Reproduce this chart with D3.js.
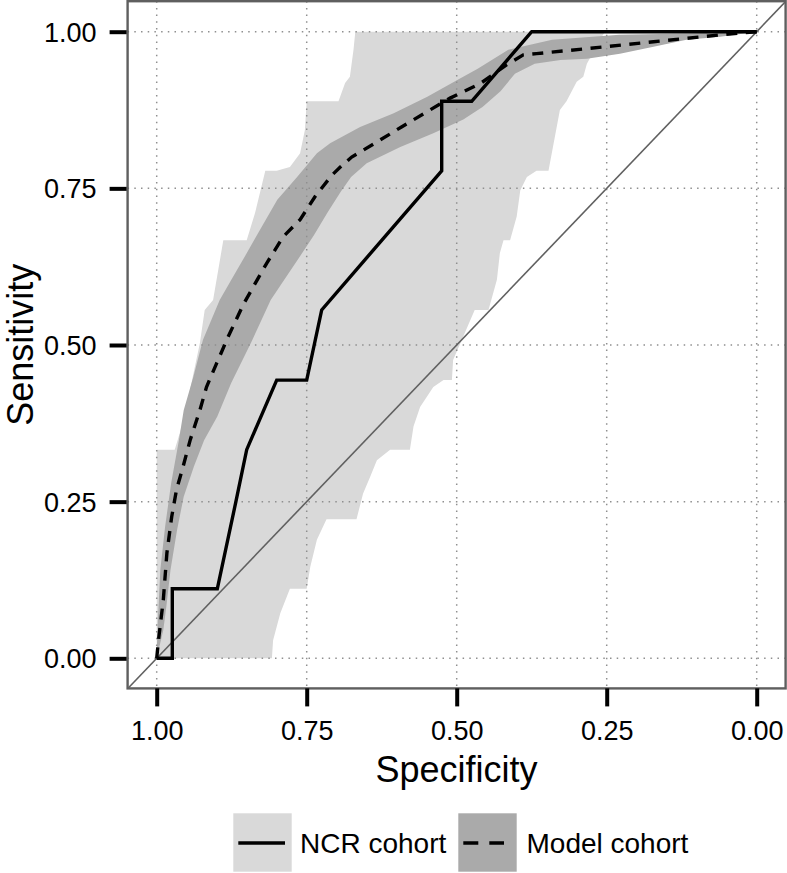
<!DOCTYPE html>
<html>
<head>
<meta charset="utf-8">
<script src="https://cdn.jsdelivr.net/npm/d3@7"></script>
<style>
  html, body { margin: 0; padding: 0; background: #ffffff; }
  svg { display: block; font-family: "Liberation Sans", Arial, Helvetica, sans-serif; }
</style>
</head>
<body>
<svg id="chart" width="787" height="873"></svg>
<script>
// ---------------- DATA (specificity, sensitivity) ----------------
const xTicks = [1.00, 0.75, 0.50, 0.25, 0.00];
const yTicks = [0.00, 0.25, 0.50, 0.75, 1.00];
const xTitle = "Specificity";
const yTitle = "Sensitivity";
const seriesNames = ["NCR cohort", "Model cohort"];

// NCR cohort ROC curve (solid)
const ncrCurve = [
  [1.000, 0.000], [0.974, 0.000], [0.974, 0.111], [0.899, 0.111],
  [0.868, 0.250], [0.850, 0.333], [0.800, 0.444], [0.750, 0.444],
  [0.725, 0.556], [0.525, 0.778], [0.525, 0.889], [0.475, 0.889],
  [0.375, 1.000], [0.000, 1.000]
];

// NCR cohort confidence band: high-specificity edge (sens ascending)
const ncrBandLeft = [
  [1.000, 0.000], [1.000, 0.333], [0.970, 0.333], [0.955, 0.380],
  [0.940, 0.449], [0.928, 0.503], [0.920, 0.556], [0.906, 0.572],
  [0.889, 0.667], [0.850, 0.667], [0.836, 0.711], [0.819, 0.778],
  [0.800, 0.778], [0.778, 0.784], [0.761, 0.806], [0.753, 0.843],
  [0.750, 0.889], [0.697, 0.889], [0.686, 0.918], [0.678, 0.928],
  [0.672, 0.971], [0.669, 1.000]
];
// NCR cohort confidence band: low-specificity edge (sens ascending)
const ncrBandRight = [
  [0.808, 0.000], [0.806, 0.029], [0.794, 0.072], [0.778, 0.111],
  [0.750, 0.111], [0.744, 0.146], [0.733, 0.189], [0.717, 0.222],
  [0.667, 0.222], [0.656, 0.263], [0.644, 0.290], [0.633, 0.316],
  [0.611, 0.333], [0.578, 0.333], [0.572, 0.370], [0.561, 0.401],
  [0.539, 0.433], [0.522, 0.444], [0.508, 0.444], [0.506, 0.476],
  [0.470, 0.556], [0.447, 0.556], [0.433, 0.604], [0.428, 0.647],
  [0.422, 0.667], [0.411, 0.667], [0.400, 0.705], [0.394, 0.747],
  [0.383, 0.768], [0.367, 0.778], [0.347, 0.778], [0.328, 0.875],
  [0.317, 0.889], [0.300, 0.920], [0.289, 0.928], [0.283, 0.949],
  [0.261, 0.987], [0.253, 1.000]
];

// Model cohort ROC curve (dashed)
const modelCurve = [
  [1.000, 0.000], [0.997, 0.029], [0.989, 0.093], [0.983, 0.168],
  [0.975, 0.226], [0.967, 0.269], [0.956, 0.306], [0.944, 0.349],
  [0.928, 0.396], [0.917, 0.433], [0.900, 0.471], [0.881, 0.513],
  [0.856, 0.564], [0.839, 0.593], [0.817, 0.630], [0.789, 0.673],
  [0.761, 0.700], [0.736, 0.737], [0.708, 0.771], [0.694, 0.784],
  [0.675, 0.800], [0.633, 0.824], [0.592, 0.848], [0.550, 0.872],
  [0.511, 0.894], [0.461, 0.917], [0.417, 0.947], [0.389, 0.963],
  [0.367, 0.965], [0.283, 0.973], [0.172, 0.984], [0.061, 0.995],
  [0.000, 1.000]
];
// Model cohort band: upper edge
const modelBandUpper = [
  [1.000, 0.000], [1.000, 0.008], [0.998, 0.061], [0.994, 0.141],
  [0.986, 0.210], [0.976, 0.279], [0.963, 0.348], [0.955, 0.396],
  [0.939, 0.449], [0.923, 0.508], [0.895, 0.572], [0.878, 0.600],
  [0.851, 0.645], [0.823, 0.692], [0.799, 0.732], [0.766, 0.768],
  [0.733, 0.806], [0.711, 0.822], [0.661, 0.848], [0.605, 0.870],
  [0.549, 0.896], [0.499, 0.923], [0.465, 0.941], [0.414, 0.971],
  [0.341, 0.987], [0.229, 0.995], [0.117, 0.997], [0.000, 1.000]
];
// Model cohort band: lower edge
const modelBandLower = [
  [1.000, 0.000], [0.989, 0.045], [0.984, 0.082], [0.977, 0.141],
  [0.966, 0.205], [0.955, 0.258], [0.938, 0.306], [0.921, 0.348],
  [0.899, 0.386], [0.876, 0.439], [0.843, 0.503], [0.810, 0.572],
  [0.793, 0.596], [0.765, 0.636], [0.738, 0.675], [0.715, 0.712],
  [0.693, 0.745], [0.676, 0.768], [0.650, 0.790], [0.594, 0.816],
  [0.539, 0.838], [0.489, 0.860], [0.457, 0.880], [0.427, 0.905],
  [0.403, 0.933], [0.370, 0.949], [0.327, 0.955], [0.283, 0.957],
  [0.228, 0.965], [0.172, 0.976], [0.117, 0.987], [0.061, 0.992],
  [0.000, 1.000]
];

// ---------------- STYLE ----------------
const lightFill = "#d9d9d9";
const darkFill = "#aaaaaa";
const gridColor = "#8f8f8f";
const borderColor = "#5f5f5f";

// ---------------- DRAW ----------------
const svg = d3.select("#chart");
const x = d3.scaleLinear().domain([1, 0]).range([156.7, 756.7]);
const y = d3.scaleLinear().domain([0, 1]).range([658.3, 31.7]);

const panel = { x0: 127.6, x1: 785.6, y0: 1.2, y1: 688.4 };

svg.append("defs").append("clipPath").attr("id", "clip")
  .append("rect")
  .attr("x", panel.x0).attr("y", panel.y0)
  .attr("width", panel.x1 - panel.x0).attr("height", panel.y1 - panel.y0);

const plot = svg.append("g").attr("clip-path", "url(#clip)");
const line = d3.line().x(d => x(d[0])).y(d => y(d[1]));

// NCR band
plot.append("path")
  .attr("d", line(ncrBandLeft.concat(ncrBandRight.slice().reverse())) + "Z")
  .attr("fill", lightFill).attr("stroke", "none");

// Model band
plot.append("path")
  .attr("d", line(modelBandUpper.concat(modelBandLower.slice().reverse())) + "Z")
  .attr("fill", darkFill).attr("stroke", "none");

// grid (dotted)
const grid = plot.append("g");
xTicks.forEach(t => {
  grid.append("line")
    .attr("x1", x(t)).attr("x2", x(t)).attr("y1", panel.y0).attr("y2", panel.y1)
    .attr("stroke", gridColor).attr("stroke-width", 1.5).attr("stroke-dasharray", "1.5,5.2");
});
yTicks.forEach(t => {
  grid.append("line")
    .attr("y1", y(t)).attr("y2", y(t)).attr("x1", panel.x0).attr("x2", panel.x1)
    .attr("stroke", gridColor).attr("stroke-width", 1.5).attr("stroke-dasharray", "1.5,5.2");
});

// diagonal
plot.append("line")
  .attr("x1", x(1.05)).attr("y1", y(-0.05))
  .attr("x2", x(-0.05)).attr("y2", y(1.05))
  .attr("stroke", "#606060").attr("stroke-width", 1.6);

// curves
plot.append("path").attr("d", line(ncrCurve))
  .attr("fill", "none").attr("stroke", "#000").attr("stroke-width", 3.4)
  .attr("stroke-linejoin", "miter");
plot.append("path").attr("d", line(modelCurve))
  .attr("fill", "none").attr("stroke", "#000").attr("stroke-width", 3.4)
  .attr("stroke-dasharray", "11,8.5");

// panel border
svg.append("rect")
  .attr("x", panel.x0).attr("y", panel.y0)
  .attr("width", panel.x1 - panel.x0).attr("height", panel.y1 - panel.y0)
  .attr("fill", "none").attr("stroke", borderColor).attr("stroke-width", 2.4);

// axes
const fmt = d3.format(".2f");
const xAxis = d3.axisBottom(x).tickValues(xTicks).tickFormat(fmt).tickSize(18).tickPadding(14);
const yAxis = d3.axisLeft(y).tickValues(yTicks).tickFormat(fmt).tickSize(17).tickPadding(13);

const gx = svg.append("g").attr("transform", `translate(0,${panel.y1})`).call(xAxis);
const gy = svg.append("g").attr("transform", `translate(${panel.x0 - 1},0)`).call(yAxis);
[gx, gy].forEach(g => {
  g.select(".domain").remove();
  g.selectAll(".tick line").attr("stroke", "#000").attr("stroke-width", 4);
  g.selectAll(".tick text").attr("fill", "#000")
    .style("font-size", "27px")
    .style("font-family", "'Liberation Sans', Arial, sans-serif");
});
gy.selectAll(".tick text").attr("dy", "0.35em");

// axis titles
svg.append("text")
  .attr("x", (panel.x0 + panel.x1) / 2).attr("y", 782)
  .attr("text-anchor", "middle").attr("fill", "#000")
  .style("font-size", "36px").text(xTitle);
svg.append("text")
  .attr("transform", `translate(33,${(panel.y0 + panel.y1) / 2}) rotate(-90)`)
  .attr("text-anchor", "middle").attr("fill", "#000")
  .style("font-size", "36px").text(yTitle);

// legend
const legend = svg.append("g");
const keys = [
  { name: seriesNames[0], fill: lightFill, dash: null, kx: 233.3, tx: 300, lx1: 238.3, lx2: 285 },
  { name: seriesNames[1], fill: darkFill, dash: "15,11", kx: 458.3, tx: 526.5, lx1: 463.3, lx2: 504 }
];
keys.forEach(k => {
  legend.append("rect")
    .attr("x", k.kx).attr("y", 813.3).attr("width", 58.4).attr("height", 58.4)
    .attr("fill", k.fill);
  legend.append("line")
    .attr("x1", k.lx1).attr("x2", k.lx2)
    .attr("y1", 843).attr("y2", 843)
    .attr("stroke", "#000").attr("stroke-width", 3.4)
    .attr("stroke-dasharray", k.dash);
  legend.append("text")
    .attr("x", k.tx).attr("y", 853)
    .attr("fill", "#000").style("font-size", "28px").text(k.name);
});
</script>
</body>
</html>
